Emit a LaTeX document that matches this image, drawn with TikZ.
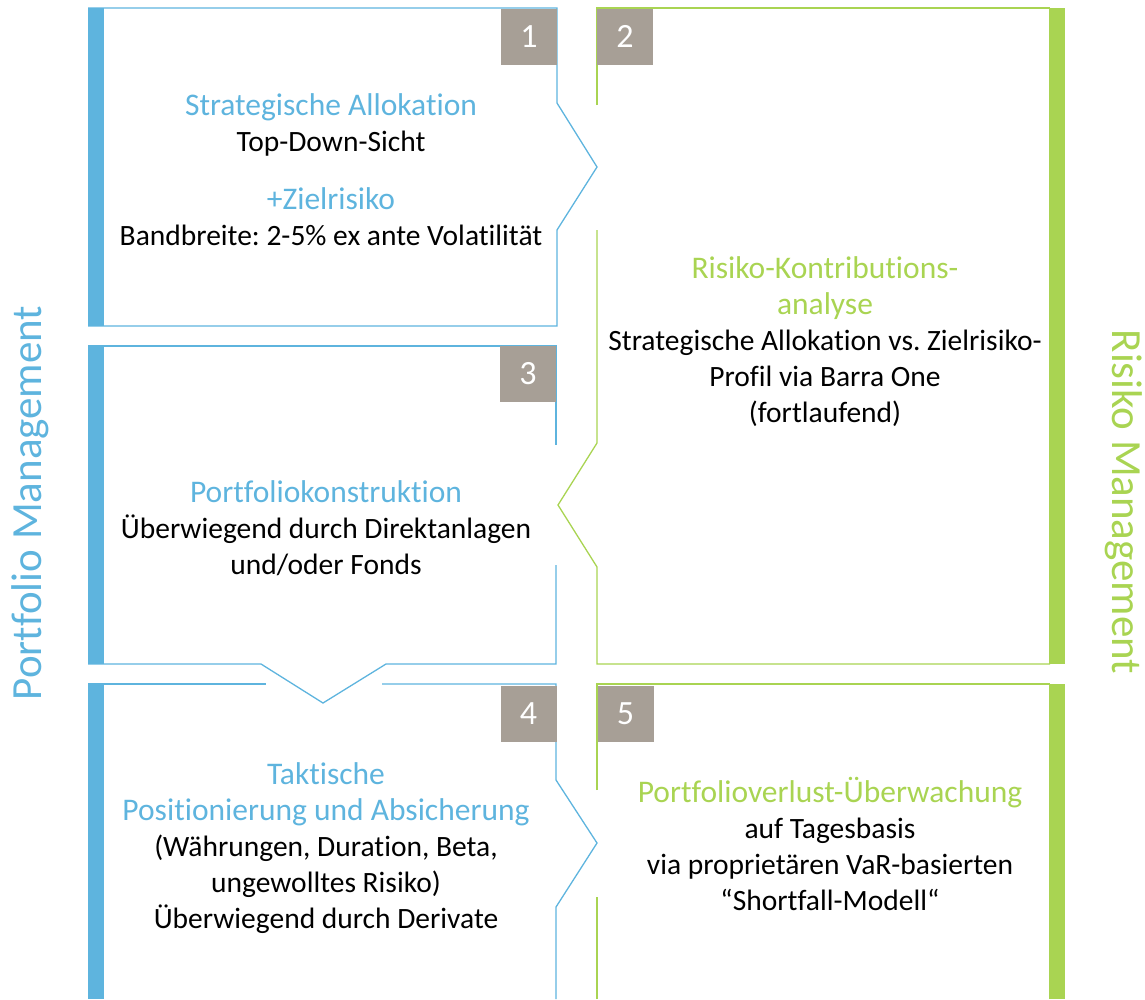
\documentclass[tikz,border=0pt]{standalone}
\usepackage{fontspec}
\setmainfont{Carlito}[Ligatures={TeX,NoCommon}]
\usepackage{xcolor}
\usepackage{tikz}
\usetikzlibrary{positioning}
\definecolor{pmblue}{HTML}{5EB4DE}
\definecolor{rmgreen}{HTML}{A9D452}
\definecolor{numgrey}{HTML}{A79F96}
\frenchspacing

\begin{document}
\begin{tikzpicture}[x=1pt, y=-1pt,
    bline/.style={draw=pmblue, line width=1.3pt},
    gline/.style={draw=rmgreen, line width=1.3pt},
    numbox/.style={rectangle, fill=numgrey, minimum width=56pt, minimum height=56pt, inner sep=0pt, text=white, font=\fontsize{34}{34}\selectfont},
    txt/.style={align=center, font=\fontsize{29.5}{36}\selectfont},
    side/.style={font=\fontsize{43}{43}\selectfont}
]
\newcommand{\hd}[2]{{\color{#1}\fontsize{31.5}{36}\selectfont #2}}
\useasboundingbox (0,0) rectangle (1145,999);

\draw[bline] (88,8) -- (557,8) -- (557,103) -- (597,167) -- (557,230) -- (557,326) -- (88,326);
\draw[gline] (597,105) -- (597,8) -- (1050,8);
\draw[gline] (597,230) -- (597,443) -- (558,505) -- (597,567) -- (597,664) -- (1050,664);
\draw[bline] (88,346) -- (556,346) -- (556,445);
\draw[bline] (556,565) -- (556,664) -- (386,664) -- (323,703) -- (261,664) -- (88,664);
\draw[bline] (88,684) -- (266,684);
\draw[bline] (382,684) -- (556,684) -- (556,780) -- (597,843) -- (556,907) -- (556,999);
\draw[gline] (597,999) -- (597,897);
\draw[gline] (597,790) -- (597,684) -- (1050,684);

\fill[pmblue] (88,8) rectangle (104,326);
\fill[pmblue] (88,346) rectangle (104,664);
\fill[pmblue] (88,684) rectangle (104,999);
\fill[rmgreen] (1049,8) rectangle (1065,664);
\fill[rmgreen] (1049,684) rectangle (1065,999);

\node[numbox] (n1) at (529,36.5) {1};
\node[numbox] (n2) at (625,36.5) {2};
\node[numbox] (n3) at (528,374) {3};
\node[numbox] (n4) at (528.5,713.5) {4};
\node[numbox] (n5) at (625.5,713.5) {5};

\node[txt] (t1) at (331,170) {\hd{pmblue}{Strategische Allokation}\\Top-Down-Sicht\\[22pt]\hd{pmblue}{+Zielrisiko}\\Bandbreite: 2-5\% ex ante Volatilität};
\node[txt] (t2) at (825,342) {\hd{rmgreen}{Risiko-Kontributions-}\\\hd{rmgreen}{analyse}\\Strategische Allokation vs. Zielrisiko-\\Profil via Barra One\\(fortlaufend)};
\node[txt] (t3) at (326,528) {\hd{pmblue}{Portfoliokonstruktion}\\Überwiegend durch Direktanlagen\\und/oder Fonds};
\node[txt] (t4) at (326,848) {\hd{pmblue}{Taktische}\\\hd{pmblue}{Positionierung und Absicherung}\\(Währungen, Duration, Beta,\\ungewolltes Risiko)\\Überwiegend durch Derivate};
\node[txt] (t5) at (830,844) {\hd{rmgreen}{Portfolioverlust-Überwachung}\\auf Tagesbasis\\via proprietären VaR-basierten\\“Shortfall-Modell“};

\node[side, text=pmblue, rotate=90] (pm) at (30,503) {Portfolio Management};
\node[side, text=rmgreen, rotate=-90] (rm) at (1124,502) {Risiko Management};
\end{tikzpicture}
\end{document}
